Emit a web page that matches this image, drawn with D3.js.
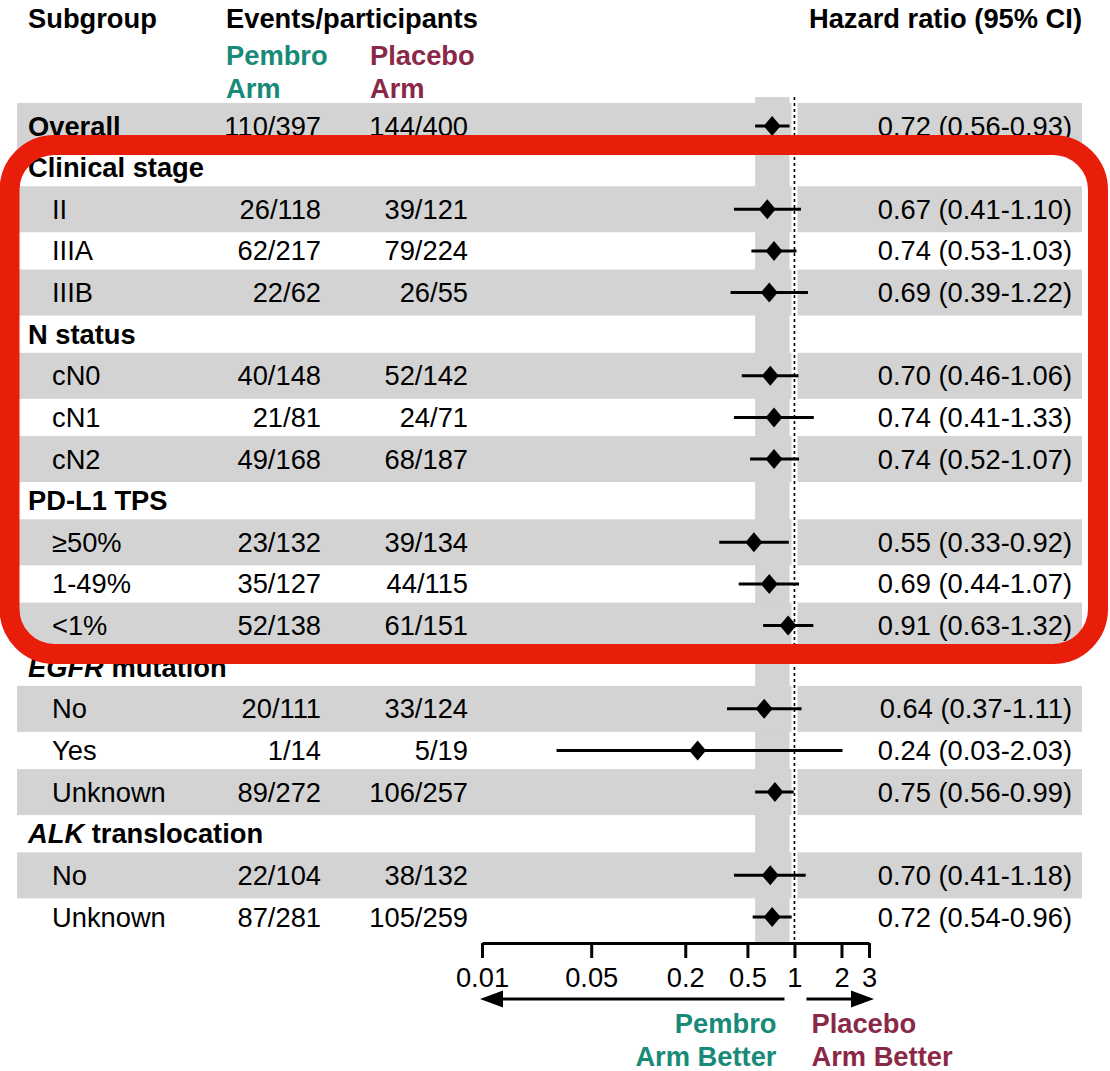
<!DOCTYPE html>
<html>
<head>
<meta charset="utf-8">
<script src="https://cdn.jsdelivr.net/npm/d3@7"></script>
<style>
  body { margin: 0; background: #fff; }
  svg { display: block; font-family: "Liberation Sans", Arial, sans-serif; }
</style>
</head>
<body>
<div id="chart"></div>
<script>
(() => {
  // rows of the table, top to bottom
  const labels = ["Overall", "Clinical stage", "II", "IIIA", "IIIB", "N status", "cN0", "cN1", "cN2",
    "PD-L1 TPS", "≥50%", "1-49%", "<1%", "EGFR mutation", "No", "Yes", "Unknown",
    "ALK translocation", "No", "Unknown"];
  const isHeader = [true, true, false, false, false, true, false, false, false,
    true, false, false, false, true, false, false, false, true, false, false];
  const pembro = ["110/397", null, "26/118", "62/217", "22/62", null, "40/148", "21/81", "49/168",
    null, "23/132", "35/127", "52/138", null, "20/111", "1/14", "89/272", null, "22/104", "87/281"];
  const placebo = ["144/400", null, "39/121", "79/224", "26/55", null, "52/142", "24/71", "68/187",
    null, "39/134", "44/115", "61/151", null, "33/124", "5/19", "106/257", null, "38/132", "105/259"];
  const hr = [0.72, null, 0.67, 0.74, 0.69, null, 0.70, 0.74, 0.74,
    null, 0.55, 0.69, 0.91, null, 0.64, 0.24, 0.75, null, 0.70, 0.72];
  const lo = [0.56, null, 0.41, 0.53, 0.39, null, 0.46, 0.41, 0.52,
    null, 0.33, 0.44, 0.63, null, 0.37, 0.03, 0.56, null, 0.41, 0.54];
  const hi = [0.93, null, 1.10, 1.03, 1.22, null, 1.06, 1.33, 1.07,
    null, 0.92, 1.07, 1.32, null, 1.11, 2.03, 0.99, null, 1.18, 0.96];
  const ticks = [0.01, 0.05, 0.2, 0.5, 1, 2, 3];

  const W = 1110, H = 1071;
  const teal = "#178a78", maroon = "#8a2846", grey = "#d3d3d3";
  const fs = 27.3;

  const svg = d3.select("#chart").append("svg")
    .attr("width", W).attr("height", H);

  const x = d3.scaleLog().domain([0.01, 3]).range([482, 869]);
  const y = d3.scaleLinear().domain([0, labels.length - 1]).range([126, 917]);
  const axisY = 943;

  const rows = labels.map((l, i) => ({ i, label: l, header: isHeader[i],
    pe: pembro[i], pl: placebo[i], hr: hr[i], lo: lo[i], hi: hi[i] }));

  // column headers
  const head = svg.append("g").style("font-size", fs + "px").style("font-weight", "bold");
  head.append("text").attr("x", 28).attr("y", 28).text("Subgroup");
  head.append("text").attr("x", 226).attr("y", 28).text("Events/participants");
  head.append("text").attr("x", 1082).attr("y", 28).attr("text-anchor", "end").text("Hazard ratio (95% CI)");
  head.append("text").attr("x", 226).attr("y", 65).attr("fill", teal).text("Pembro");
  head.append("text").attr("x", 226).attr("y", 98).attr("fill", teal).text("Arm");
  head.append("text").attr("x", 370).attr("y", 65).attr("fill", maroon).text("Placebo");
  head.append("text").attr("x", 370).attr("y", 98).attr("fill", maroon).text("Arm");

  // overall CI band
  svg.append("rect")
    .attr("x", x(lo[0])).attr("width", x(hi[0]) - x(lo[0]))
    .attr("y", 97).attr("height", axisY - 97)
    .attr("fill", grey);

  // alternating row shading
  svg.append("g").selectAll("rect")
    .data(rows.filter(d => d.i % 2 === 0))
    .join("rect")
    .attr("x", 17).attr("width", 1082 - 17)
    .attr("y", d => y(d.i) - 23).attr("height", 46)
    .attr("fill", grey);

  // line of no effect
  svg.append("line")
    .attr("x1", x(1)).attr("x2", x(1)).attr("y1", 97).attr("y2", axisY)
    .attr("stroke", "#fff").attr("stroke-width", 6);
  svg.append("line")
    .attr("x1", x(1)).attr("x2", x(1)).attr("y1", 97).attr("y2", axisY)
    .attr("stroke", "#000").attr("stroke-width", 1.6).attr("stroke-dasharray", "3 3");

  // text columns
  const txt = svg.append("g").style("font-size", fs + "px");
  const row = txt.selectAll("g").data(rows).join("g")
    .attr("transform", d => `translate(0,${y(d.i) + 9.5})`);

  row.append("text")
    .attr("x", d => d.header ? 28 : 52)
    .style("font-weight", d => d.header ? "bold" : "normal")
    .each(function (d) {
      const t = d3.select(this);
      if (d.label === "EGFR mutation" || d.label === "ALK translocation") {
        const [a, ...rest] = d.label.split(" ");
        t.append("tspan").style("font-style", "italic").text(a);
        t.append("tspan").text(" " + rest.join(" "));
      } else {
        t.text(d.label);
      }
    });

  row.filter(d => d.pe).append("text")
    .attr("x", 321).attr("text-anchor", "end").text(d => d.pe);
  row.filter(d => d.pl).append("text")
    .attr("x", 468).attr("text-anchor", "end").text(d => d.pl);
  row.filter(d => d.hr != null).append("text")
    .attr("x", 1072).attr("text-anchor", "end")
    .text(d => `${d.hr.toFixed(2)} (${d.lo.toFixed(2)}-${d.hi.toFixed(2)})`);

  // CI lines and diamonds
  const est = rows.filter(d => d.hr != null);
  svg.append("g").selectAll("line").data(est).join("line")
    .attr("x1", d => x(d.lo)).attr("x2", d => x(d.hi))
    .attr("y1", d => y(d.i)).attr("y2", d => y(d.i))
    .attr("stroke", "#000").attr("stroke-width", 3);
  svg.append("g").selectAll("path").data(est).join("path")
    .attr("d", d => {
      const cx = x(d.hr), cy = y(d.i), w = 8.5, h = 10;
      return `M${cx},${cy - h}L${cx + w},${cy}L${cx},${cy + h}L${cx - w},${cy}Z`;
    })
    .attr("fill", "#000");

  // x axis
  const ax = svg.append("g")
    .attr("transform", `translate(0,${axisY})`)
    .call(d3.axisBottom(x).tickValues(ticks).tickFormat(d => d).tickSize(15).tickSizeOuter(0).tickPadding(10));
  ax.select(".domain").attr("stroke", "#000").attr("stroke-width", 3);
  ax.selectAll(".tick line").attr("stroke", "#000").attr("stroke-width", 3);
  ax.selectAll(".tick text")
    .attr("fill", "#000")
    .style("font-size", fs + "px")
    .style("font-family", "'Liberation Sans', Arial, sans-serif");

  // direction arrows
  const arrowY = 999;
  const arr = svg.append("g");
  arr.append("line").attr("x1", x(1) - 10).attr("x2", x(0.01) + 16)
    .attr("y1", arrowY).attr("y2", arrowY).attr("stroke", "#000").attr("stroke-width", 3);
  arr.append("path")
    .attr("d", `M${x(0.01) - 2},${arrowY}L${x(0.01) + 21},${arrowY - 8.5}L${x(0.01) + 21},${arrowY + 8.5}Z`);
  arr.append("line").attr("x1", x(1) + 12).attr("x2", x(3) - 16)
    .attr("y1", arrowY).attr("y2", arrowY).attr("stroke", "#000").attr("stroke-width", 3);
  arr.append("path")
    .attr("d", `M${x(3) + 5},${arrowY}L${x(3) - 18},${arrowY - 8.5}L${x(3) - 18},${arrowY + 8.5}Z`);

  const foot = svg.append("g").style("font-size", fs + "px").style("font-weight", "bold");
  foot.append("text").attr("x", x(1) - 18).attr("y", 1033).attr("text-anchor", "end").attr("fill", teal).text("Pembro");
  foot.append("text").attr("x", x(1) - 18).attr("y", 1066).attr("text-anchor", "end").attr("fill", teal).text("Arm Better");
  foot.append("text").attr("x", x(1) + 17).attr("y", 1033).attr("fill", maroon).text("Placebo");
  foot.append("text").attr("x", x(1) + 17).attr("y", 1066).attr("fill", maroon).text("Arm Better");

  // highlight box
  svg.append("rect")
    .attr("x", 9.5).attr("y", 145)
    .attr("width", 1098 - 9.5).attr("height", 654 - 145)
    .attr("rx", 45).attr("ry", 45)
    .attr("fill", "none").attr("stroke", "#e81e0b").attr("stroke-width", 20);
})();
</script>
</body>
</html>
